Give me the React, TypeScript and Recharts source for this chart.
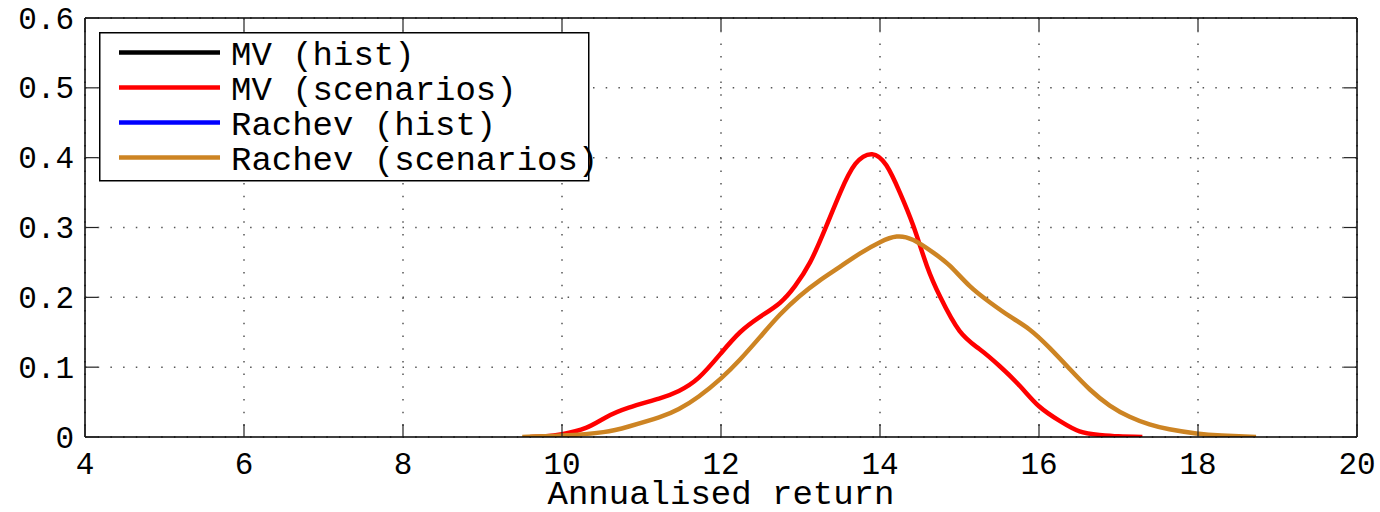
import React from "react";
import { LineChart, Line, XAxis, YAxis, CartesianGrid, Legend } from "recharts";

// Kernel density of annualised returns, x in %, y density
const mvScenX = [9.6, 9.8, 10, 10.3, 10.55, 10.84, 11.22, 11.47, 11.72, 12, 12.24, 12.49, 12.74, 12.93, 13.12, 13.31, 13.5, 13.69, 13.9, 14.08, 14.25, 14.42, 14.59, 14.76, 15, 15.25, 15.5, 15.76, 16, 16.26, 16.51, 16.76, 17, 17.3];
const mvScenY = [0, 0.001, 0.004, 0.013, 0.028, 0.042, 0.055, 0.066, 0.085, 0.12, 0.15, 0.172, 0.192, 0.216, 0.25, 0.298, 0.35, 0.391, 0.405, 0.389, 0.35, 0.302, 0.245, 0.2, 0.152, 0.126, 0.102, 0.073, 0.044, 0.023, 0.008, 0.003, 0.001, 0];

const rachevScenX = [9.5, 10, 10.52, 10.84, 11.22, 11.47, 11.72, 12, 12.24, 12.49, 12.74, 12.99, 13.24, 13.5, 13.75, 14, 14.21, 14.42, 14.67, 14.88, 15.13, 15.38, 15.63, 15.88, 16.13, 16.39, 16.64, 16.89, 17.14, 17.39, 17.64, 17.98, 18.3, 18.73];
const rachevScenY = [0, 0.002, 0.007, 0.015, 0.028, 0.04, 0.058, 0.084, 0.111, 0.143, 0.175, 0.202, 0.224, 0.244, 0.263, 0.279, 0.287, 0.282, 0.264, 0.245, 0.216, 0.193, 0.173, 0.154, 0.128, 0.097, 0.068, 0.045, 0.029, 0.018, 0.011, 0.005, 0.002, 0];

// historical series have no points inside the window
const mvHistX: number[] = [];
const mvHistY: number[] = [];
const rachevHistX: number[] = [];
const rachevHistY: number[] = [];

const xTicks = [4, 6, 8, 10, 12, 14, 16, 18, 20];
const yTicks = [0, 0.1, 0.2, 0.3, 0.4, 0.5, 0.6];

const toPoints = (xs: number[], ys: number[]) => xs.map((x, i) => ({ x, y: ys[i] }));

const series = [
  { name: "MV (hist)", color: "#000000", data: toPoints(mvHistX, mvHistY) },
  { name: "MV (scenarios)", color: "#ff0000", data: toPoints(mvScenX, mvScenY) },
  { name: "Rachev (hist)", color: "#0000ff", data: toPoints(rachevHistX, rachevHistY) },
  { name: "Rachev (scenarios)", color: "#cd8423", data: toPoints(rachevScenX, rachevScenY) },
];

const FONT = "'Liberation Mono', 'DejaVu Sans Mono', monospace";
const FS = 34; // legend and axis title
const TICK_FS = 31;
const TICK_LEN = 13;
const TICK_COLOR = "#222";
const FRAME = { stroke: "#000", strokeWidth: 1.5 };

const BottomTick = ({ x, y, payload }: any) => (
  <g>
    <line x1={x} x2={x} y1={y} y2={y - TICK_LEN} stroke={TICK_COLOR} strokeWidth={1.2} />
    <text x={x} y={y + 37} textAnchor="middle" fontFamily={FONT} fontSize={TICK_FS} fill="#000">
      {payload.value}
    </text>
  </g>
);

const TopTick = ({ x, y }: any) => (
  <line x1={x} x2={x} y1={y} y2={y + TICK_LEN} stroke={TICK_COLOR} strokeWidth={1.2} />
);

const LeftTick = ({ x, y, payload }: any) => (
  <g>
    <line x1={x} x2={x + TICK_LEN} y1={y} y2={y} stroke={TICK_COLOR} strokeWidth={1.2} />
    <text x={x - 11} y={y + 10.5} textAnchor="end" fontFamily={FONT} fontSize={TICK_FS} fill="#000">
      {String(payload.value)}
    </text>
  </g>
);

const RightTick = ({ x, y }: any) => (
  <line x1={x} x2={x - TICK_LEN} y1={y} y2={y} stroke={TICK_COLOR} strokeWidth={1.2} />
);

const LegendBox = () => (
  <svg width={492} height={151} style={{ overflow: "visible", display: "block" }}>
    <rect x={0.75} y={0.75} width={489} height={148} fill="#fff" stroke="#000" strokeWidth={1.5} />
    {series.map((s, i) => {
      const cy = 20.5 + i * 35;
      return (
        <g key={s.name}>
          <line x1={20} x2={121} y1={cy} y2={cy} stroke={s.color} strokeWidth={4.5} />
          <text x={132} y={cy + 12} fontFamily={FONT} fontSize={FS} fill="#000">
            {s.name}
          </text>
        </g>
      );
    })}
  </svg>
);

const AxisTitle = ({ viewBox }: any) => (
  <text
    x={viewBox.x + viewBox.width / 2}
    y={viewBox.y + 67}
    textAnchor="middle"
    fontFamily={FONT}
    fontSize={FS}
    fill="#000"
  >
    Annualised return
  </text>
);

export default function App() {
  return (
    <div style={{ position: "absolute", left: 0, top: 0, width: 1380, height: 512, background: "#fff" }}>
      <LineChart width={1380} height={512} margin={{ top: 17, right: 22, bottom: 74, left: 84 }}>
        <CartesianGrid stroke="#555" strokeWidth={1.5} strokeDasharray="1.5 11.2" />
        <XAxis
          type="number"
          dataKey="x"
          domain={[4, 20]}
          ticks={xTicks}
          height={1}
          tickSize={0}
          tickMargin={0}
          tick={BottomTick}
          tickLine={false}
          axisLine={FRAME}
          allowDataOverflow
          label={AxisTitle}
        />
        <XAxis
          xAxisId="top"
          orientation="top"
          type="number"
          dataKey="x"
          domain={[4, 20]}
          ticks={xTicks}
          height={1}
          tickSize={0}
          tickMargin={0}
          tick={TopTick}
          tickLine={false}
          axisLine={FRAME}
          allowDataOverflow
        />
        <YAxis
          type="number"
          domain={[0, 0.6]}
          ticks={yTicks}
          width={1}
          tickSize={0}
          tickMargin={0}
          tick={LeftTick}
          tickLine={false}
          axisLine={FRAME}
          allowDataOverflow
        />
        <YAxis
          yAxisId="right"
          orientation="right"
          type="number"
          domain={[0, 0.6]}
          ticks={yTicks}
          width={1}
          tickSize={0}
          tickMargin={0}
          tick={RightTick}
          tickLine={false}
          axisLine={FRAME}
          allowDataOverflow
        />
        <Legend
          layout="vertical"
          align="center"
          verticalAlign="middle"
          content={() => <LegendBox />}
          wrapperStyle={{ left: 99, top: 32, width: "auto", height: "auto" }}
        />
        {series
          .filter((s) => s.data.length > 0)
          .map((s) => (
            <Line
              key={s.name}
              data={s.data}
              dataKey="y"
              name={s.name}
              type="natural"
              stroke={s.color}
              strokeWidth={4.5}
              dot={false}
              activeDot={false}
              isAnimationActive={false}
            />
          ))}
      </LineChart>
    </div>
  );
}
